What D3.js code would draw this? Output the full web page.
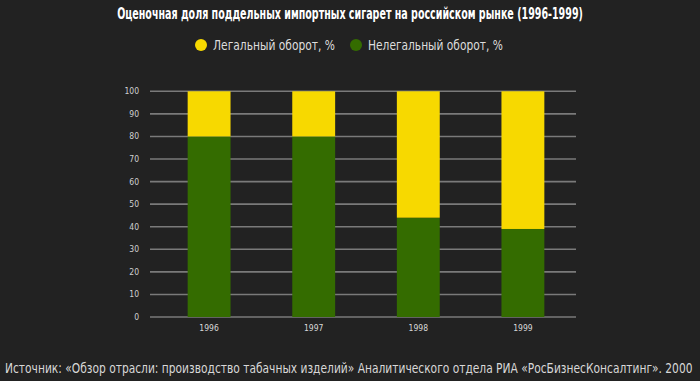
<!DOCTYPE html>
<html><head><meta charset="utf-8">
<script src="https://cdn.jsdelivr.net/npm/d3@7"></script>
<style>html,body{margin:0;padding:0;background:#222222;}svg{display:block;}</style>
</head><body>
<svg id="c" width="700" height="381"></svg>
<script>
const years = ["1996", "1997", "1998", "1999"];
const illegal = [80, 80, 44, 39];
const legal = [20, 20, 56, 61];
const yTicks = [0, 10, 20, 30, 40, 50, 60, 70, 80, 90, 100];
const seriesNames = ["Легальный оборот, %", "Нелегальный оборот, %"];
const colors = ["#f7d900", "#346c00"];
const titleText = "Оценочная доля поддельных импортных сигарет на российском рынке (1996-1999)";
const sourceText = "Источник: «Обзор отрасли: производство табачных изделий» Аналитического отдела РИА «РосБизнесКонсалтинг». 2000";
const FONT = "Liberation Sans Narrow, DejaVu Sans Condensed, sans-serif";

const svg = d3.select("#c");
svg.append("rect").attr("width", 700).attr("height", 381).attr("fill", "#222222");

const x = d3.scaleBand().domain(years).range([150, 582]).paddingInner(0.59).paddingOuter(0.36);
const y = d3.scaleLinear().domain([0, 100]).range([317, 91.3]);

// squeeze a text horizontally (keeping its height) so its width matches a target
function squeeze(sel, cx, cy, target, anchor) {
  const w = sel.node().getComputedTextLength();
  const k = Math.min(1, target / w);
  sel.attr("x", 0).attr("y", 0).attr("text-anchor", anchor)
     .attr("transform", `translate(${cx},${cy}) scale(${k.toFixed(4)},1)`);
}

// gridlines
svg.append("g").selectAll("line").data(yTicks).join("line")
  .attr("x1", 150).attr("x2", 576)
  .attr("y1", d => y(d)).attr("y2", d => y(d))
  .attr("stroke", "#7a7a7a").attr("stroke-width", 1.6);

// y tick labels
svg.append("g").selectAll("text").data(yTicks).join("text")
  .attr("x", 139).attr("y", d => y(d)).attr("dy", "0.35em")
  .attr("text-anchor", "end").attr("fill", "#d0d0d0")
  .attr("font-family", FONT)
  .attr("font-size", 8.5).text(d => d);

const stackData = years.map((yr, i) => ({year: yr, illegal: illegal[i], legal: legal[i]}));
const stack = d3.stack().keys(["illegal", "legal"])(stackData);
const colMap = {illegal: colors[1], legal: colors[0]};

svg.append("g").selectAll("g").data(stack).join("g")
  .attr("fill", d => colMap[d.key])
  .selectAll("rect").data(d => d).join("rect")
  .attr("x", d => x(d.data.year))
  .attr("width", x.bandwidth())
  .attr("y", d => y(d[1]))
  .attr("height", d => y(d[0]) - y(d[1]));

// x labels
svg.append("g").selectAll("text").data(years).join("text")
  .attr("x", d => x(d) + x.bandwidth() / 2).attr("y", 331)
  .attr("text-anchor", "middle").attr("fill", "#d8d8d8")
  .attr("font-family", FONT)
  .attr("font-size", 8.5).text(d => d);

// title
const title = svg.append("text")
  .attr("fill", "#ffffff").attr("font-weight", "bold")
  .attr("font-family", FONT).attr("font-size", 16.5)
  .text(titleText);
squeeze(title, 350, 19, 466, "middle");

// legend
const legendX = [201, 356];
const legendW = [122, 135];
const lg = svg.append("g").selectAll("g").data(seriesNames).join("g");
lg.append("circle").attr("cx", (d, i) => legendX[i]).attr("cy", 45).attr("r", 6)
  .attr("fill", (d, i) => colors[i]);
lg.append("text")
  .attr("fill", "#dddddd")
  .attr("font-family", FONT).attr("font-size", 13.5)
  .text(d => d)
  .each(function(d, i) { squeeze(d3.select(this), legendX[i] + 12, 50, legendW[i], "start"); });

// source
const src = svg.append("text")
  .attr("fill", "#d8d8d8")
  .attr("font-family", FONT).attr("font-size", 13.5)
  .text(sourceText);
squeeze(src, 5, 373, 688, "start");
</script>
</body></html>
